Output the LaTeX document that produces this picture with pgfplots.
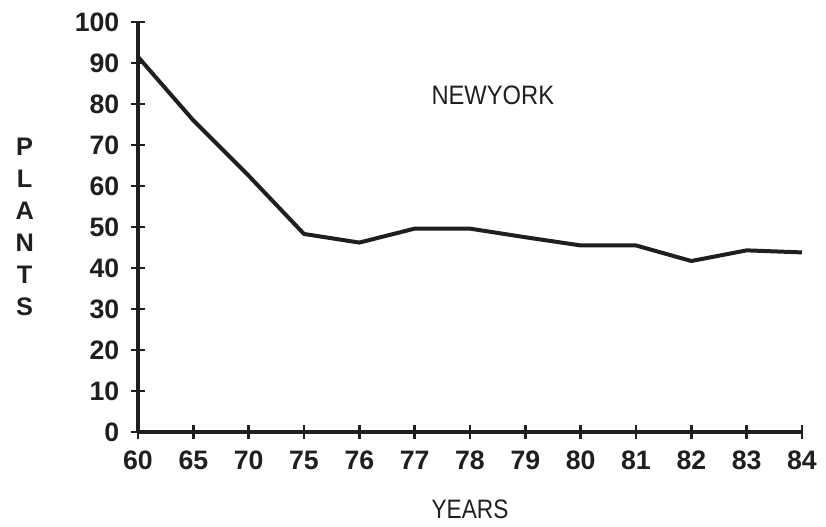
\documentclass[border=0pt]{standalone}
\usepackage{fontspec}
\setmainfont{Liberation Sans}
\usepackage{pgfplots}
\pgfplotsset{compat=1.18}
\definecolor{ink}{gray}{0.12}
\begin{document}
\begin{tikzpicture}
\useasboundingbox (-103.5pt,-71.25pt) rectangle (516pt,324pt);
\begin{axis}[
  at={(0,0)}, anchor=south west,
  scale only axis, width=498pt, height=307.5pt,
  xmin=0, xmax=12, ymin=0, ymax=100,
  axis lines=left, axis line style={-, line width=2.6pt, ink},
  xtick={0,...,12},
  xticklabels={60,65,70,75,76,77,78,79,80,81,82,83,84},
  ytick={0,10,...,100},
  tick align=center, major tick length=11pt,
  every tick/.style={line width=1.8pt, ink},
  /pgf/number format/assume math mode=true,
  ticklabel style={font=\fontsize{20}{24}\selectfont\bfseries, text=ink},
  yticklabel style={xshift=-5pt},
  xticklabel style={yshift=-5pt},
  xlabel={\scalebox{0.85}[1]{YEARS}},
  xlabel style={font=\fontsize{20}{24}\selectfont, text=ink, at={(axis description cs:0.5,0)}, anchor=center, yshift=-58pt},
  ylabel={P\\L\\A\\N\\T\\S},
  ylabel style={font=\fontsize{19}{24}\selectfont\bfseries, text=ink, align=center, rotate=-90, at={(axis description cs:0,0.5)}, anchor=center, xshift=-85pt},
  clip=false,
]
\addplot[ink, line width=3pt, line join=round, mark=none] coordinates {
(0,91.5) (1,76) (2,62.5) (3,48.3) (4,46.2) (5,49.6) (6,49.6) (7,47.5) (8,45.5) (9,45.5) (10,41.7) (11,44.3) (12,43.8)
};
\node[anchor=west, font=\fontsize{20}{24}\selectfont, text=ink, inner sep=0pt] at (axis cs:5.3,82) {\scalebox{0.89}[1]{NEWYORK}};
\end{axis}
\end{tikzpicture}
\end{document}
